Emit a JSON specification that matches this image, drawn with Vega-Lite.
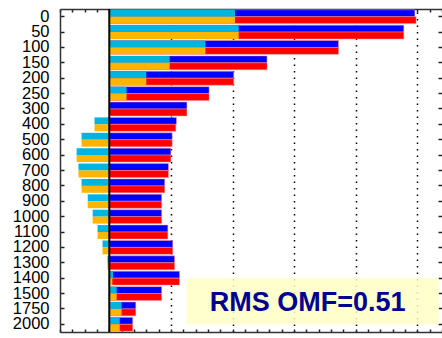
{
  "$schema": "https://vega.github.io/schema/vega-lite/v6.json",
  "width": 382,
  "height": 323,
  "autosize": {"type": "none"},
  "padding": {"left": 60, "top": 9, "right": 0, "bottom": 6},
  "background": "white",
  "config": {
    "view": {"stroke": null},
    "axis": {"domainColor": "#333333", "domainWidth": 1.5, "tickColor": "#222222", "tickWidth": 1.5}
  },
  "datasets": {
    "bars": [
      {"lev": "0", "row": "A", "kind": "total", "v": 24.8},
      {"lev": "0", "row": "B", "kind": "total", "v": 24.9},
      {"lev": "50", "row": "A", "kind": "total", "v": 23.9},
      {"lev": "50", "row": "B", "kind": "total", "v": 23.9},
      {"lev": "100", "row": "A", "kind": "total", "v": 18.6},
      {"lev": "100", "row": "B", "kind": "total", "v": 18.6},
      {"lev": "150", "row": "A", "kind": "total", "v": 12.8},
      {"lev": "150", "row": "B", "kind": "total", "v": 12.8},
      {"lev": "200", "row": "A", "kind": "total", "v": 10.1},
      {"lev": "200", "row": "B", "kind": "total", "v": 10.1},
      {"lev": "250", "row": "A", "kind": "total", "v": 8.1},
      {"lev": "250", "row": "B", "kind": "total", "v": 8.1},
      {"lev": "300", "row": "A", "kind": "total", "v": 6.3},
      {"lev": "300", "row": "B", "kind": "total", "v": 6.3},
      {"lev": "400", "row": "A", "kind": "total", "v": 5.45},
      {"lev": "400", "row": "B", "kind": "total", "v": 5.4},
      {"lev": "500", "row": "A", "kind": "total", "v": 5.1},
      {"lev": "500", "row": "B", "kind": "total", "v": 5.1},
      {"lev": "600", "row": "A", "kind": "total", "v": 5.0},
      {"lev": "600", "row": "B", "kind": "total", "v": 5.0},
      {"lev": "700", "row": "A", "kind": "total", "v": 4.8},
      {"lev": "700", "row": "B", "kind": "total", "v": 4.8},
      {"lev": "800", "row": "A", "kind": "total", "v": 4.5},
      {"lev": "800", "row": "B", "kind": "total", "v": 4.5},
      {"lev": "900", "row": "A", "kind": "total", "v": 4.25},
      {"lev": "900", "row": "B", "kind": "total", "v": 4.25},
      {"lev": "1000", "row": "A", "kind": "total", "v": 4.25},
      {"lev": "1000", "row": "B", "kind": "total", "v": 4.25},
      {"lev": "1100", "row": "A", "kind": "total", "v": 4.75},
      {"lev": "1100", "row": "B", "kind": "total", "v": 4.75},
      {"lev": "1200", "row": "A", "kind": "total", "v": 5.15},
      {"lev": "1200", "row": "B", "kind": "total", "v": 5.15},
      {"lev": "1300", "row": "A", "kind": "total", "v": 5.3},
      {"lev": "1300", "row": "B", "kind": "total", "v": 5.3},
      {"lev": "1400", "row": "A", "kind": "total", "v": 5.7},
      {"lev": "1400", "row": "B", "kind": "total", "v": 5.7},
      {"lev": "1500", "row": "A", "kind": "total", "v": 4.25},
      {"lev": "1500", "row": "B", "kind": "total", "v": 4.25},
      {"lev": "1750", "row": "A", "kind": "total", "v": 2.15},
      {"lev": "1750", "row": "B", "kind": "total", "v": 2.15},
      {"lev": "2000", "row": "A", "kind": "total", "v": 1.9},
      {"lev": "2000", "row": "B", "kind": "total", "v": 1.9},
      {"lev": "0", "row": "A", "kind": "part", "v": 10.2},
      {"lev": "0", "row": "B", "kind": "part", "v": 10.2},
      {"lev": "50", "row": "A", "kind": "part", "v": 10.5},
      {"lev": "50", "row": "B", "kind": "part", "v": 10.5},
      {"lev": "100", "row": "A", "kind": "part", "v": 7.8},
      {"lev": "100", "row": "B", "kind": "part", "v": 7.8},
      {"lev": "150", "row": "A", "kind": "part", "v": 4.9},
      {"lev": "150", "row": "B", "kind": "part", "v": 4.9},
      {"lev": "200", "row": "A", "kind": "part", "v": 3.0},
      {"lev": "200", "row": "B", "kind": "part", "v": 3.0},
      {"lev": "250", "row": "A", "kind": "part", "v": 1.4},
      {"lev": "250", "row": "B", "kind": "part", "v": 1.4},
      {"lev": "400", "row": "A", "kind": "part", "v": -1.2},
      {"lev": "400", "row": "B", "kind": "part", "v": -1.2},
      {"lev": "500", "row": "A", "kind": "part", "v": -2.25},
      {"lev": "500", "row": "B", "kind": "part", "v": -2.25},
      {"lev": "600", "row": "A", "kind": "part", "v": -2.65},
      {"lev": "600", "row": "B", "kind": "part", "v": -2.65},
      {"lev": "700", "row": "A", "kind": "part", "v": -2.5},
      {"lev": "700", "row": "B", "kind": "part", "v": -2.5},
      {"lev": "800", "row": "A", "kind": "part", "v": -2.25},
      {"lev": "800", "row": "B", "kind": "part", "v": -2.25},
      {"lev": "900", "row": "A", "kind": "part", "v": -1.75},
      {"lev": "900", "row": "B", "kind": "part", "v": -1.75},
      {"lev": "1000", "row": "A", "kind": "part", "v": -1.35},
      {"lev": "1000", "row": "B", "kind": "part", "v": -1.35},
      {"lev": "1100", "row": "A", "kind": "part", "v": -0.95},
      {"lev": "1100", "row": "B", "kind": "part", "v": -0.95},
      {"lev": "1200", "row": "A", "kind": "part", "v": -0.55},
      {"lev": "1200", "row": "B", "kind": "part", "v": -0.55},
      {"lev": "1300", "row": "A", "kind": "part", "v": -0.15},
      {"lev": "1300", "row": "B", "kind": "part", "v": -0.15},
      {"lev": "1400", "row": "A", "kind": "part", "v": 0.3},
      {"lev": "1400", "row": "B", "kind": "part", "v": 0.25},
      {"lev": "1500", "row": "A", "kind": "part", "v": 0.6},
      {"lev": "1500", "row": "B", "kind": "part", "v": 0.6},
      {"lev": "1750", "row": "A", "kind": "part", "v": 1.0},
      {"lev": "1750", "row": "B", "kind": "part", "v": 1.0},
      {"lev": "2000", "row": "A", "kind": "part", "v": 0.85},
      {"lev": "2000", "row": "B", "kind": "part", "v": 0.85}
    ],
    "note": [{"label": "RMS OMF=0.51"}]
  },
  "resolve": {"axis": {"x": "independent", "y": "independent"}},
  "layer": [
    {
      "data": {"name": "bars"},
      "transform": [{"filter": "datum.kind === 'total'"}],
      "mark": {"type": "bar", "stroke": "#ff9090", "strokeWidth": 0.5},
      "encoding": {
        "x": {"field": "v", "type": "quantitative", "stack": null,
          "scale": {"domain": [-4, 27], "nice": false, "zero": false},
          "axis": {"orient": "bottom", "values": [-4,-3,-2,-1,0,1,2,3,4,5,6,7,8,9,10,11,12,13,14,15,16,17,18,19,20,21,22,23,24,25,26,27],
            "labels": false, "title": null, "tickSize": -3,
            "grid": true, "gridColor": "#000000", "gridWidth": 1.5, "gridDash": [1.5, 5],
            "gridOpacity": {"condition": {"test": "datum.value > 0 && datum.value % 5 === 0", "value": 1}, "value": 0}}},
        "y": {"field": "lev", "type": "nominal",
          "scale": {"domain": ["0","50","100","150","200","250","300","400","500","600","700","800","900","1000","1100","1200","1300","1400","1500","1750","2000"], "paddingInner": 0.1, "paddingOuter": 0.05},
          "axis": {"orient": "left", "title": null, "tickSize": -4, "labelFont": "Liberation Sans", "labelFontSize": 16.5, "labelColor": "#000000", "labelPadding": 15, "labelBaseline": "middle"}},
        "yOffset": {"field": "row", "type": "nominal", "scale": {"domain": ["A", "B"], "paddingInner": 0, "paddingOuter": 0}},
        "color": {"field": "row", "type": "nominal", "scale": {"domain": ["A", "B"], "range": ["#0000ff", "#ff0000"]}, "legend": null}
      }
    },
    {
      "data": {"name": "bars"},
      "transform": [{"filter": "datum.kind === 'part'"}],
      "mark": {"type": "bar"},
      "encoding": {
        "x": {"field": "v", "type": "quantitative", "stack": null, "scale": {"domain": [-4, 27], "nice": false, "zero": false}, "axis": null},
        "y": {"field": "lev", "type": "nominal", "axis": null},
        "yOffset": {"field": "row", "type": "nominal"},
        "fill": {"field": "row", "type": "nominal", "scale": {"domain": ["A", "B"], "range": ["#00b4e0", "#ffb400"]}, "legend": null}
      }
    },
    {
      "data": {"name": "note"},
      "mark": {"type": "rect", "fill": "#ffffc4", "opacity": 0.85},
      "encoding": {
        "x": {"datum": 6.26, "type": "quantitative", "axis": null},
        "x2": {"datum": 26.75},
        "y": {"datum": "1400", "type": "nominal", "bandPosition": 0.5, "axis": null},
        "y2": {"datum": "2000", "bandPosition": 0.5}
      }
    },
    {
      "data": {"name": "note"},
      "mark": {"type": "text", "font": "Liberation Sans", "fontWeight": "bold", "fontSize": 27, "color": "#000090", "align": "center", "baseline": "middle"},
      "encoding": {
        "text": {"field": "label"},
        "x": {"datum": 16.1, "type": "quantitative", "axis": null},
        "y": {"datum": "1750", "type": "nominal", "bandPosition": 0.1,
          "axis": {"orient": "right", "labels": false, "domain": false, "title": null, "tickSize": -4}}
      }
    },
    {
      "data": {"name": "note"},
      "mark": {"type": "rule", "color": "#000000", "strokeWidth": 2},
      "encoding": {
        "x": {"datum": 0, "type": "quantitative",
          "axis": {"orient": "top", "values": [-4,-3,-2,-1,0,1,2,3,4,5,6,7,8,9,10,11,12,13,14,15,16,17,18,19,20,21,22,23,24,25,26,27],
            "labels": false, "title": null, "tickSize": -3, "grid": false}}
      }
    }
  ]
}
